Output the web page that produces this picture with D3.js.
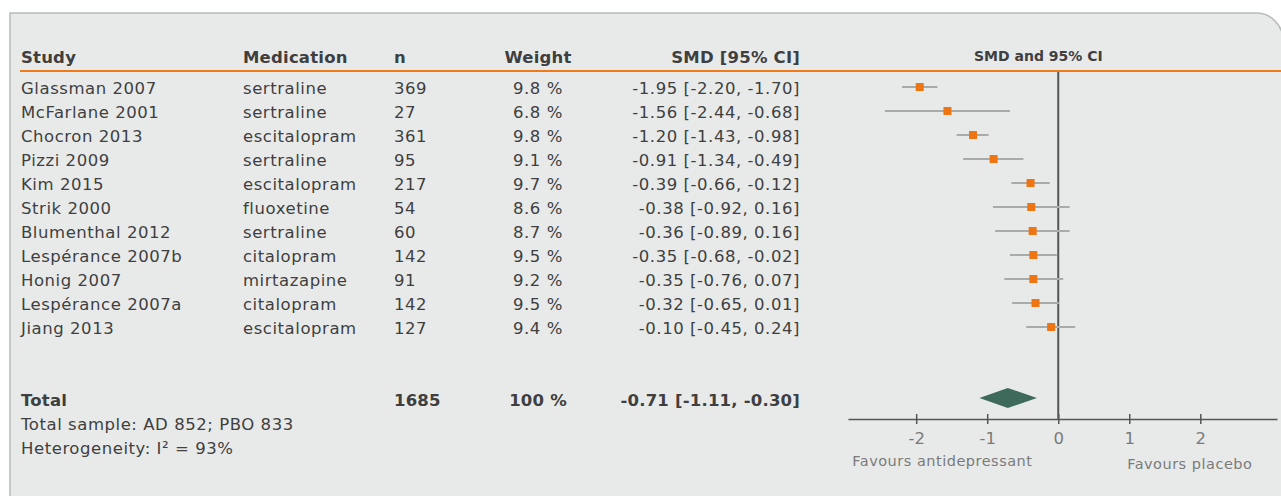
<!DOCTYPE html>
<html>
<head>
<meta charset="utf-8">
<script src="https://cdn.jsdelivr.net/npm/d3@7"></script>
<style>
  html, body { margin: 0; padding: 0; background: #ffffff; }
  svg { display: block; }
  text { font-family: "DejaVu Sans", sans-serif; }
</style>
</head>
<body>
<svg id="chart" width="1281" height="496"></svg>
<script>
// Study-level data
const studies = ["Glassman 2007", "McFarlane 2001", "Chocron 2013", "Pizzi 2009", "Kim 2015", "Strik 2000",
  "Blumenthal 2012", "Lespérance 2007b", "Honig 2007", "Lespérance 2007a", "Jiang 2013"];
const medications = ["sertraline", "sertraline", "escitalopram", "sertraline", "escitalopram", "fluoxetine",
  "sertraline", "citalopram", "mirtazapine", "citalopram", "escitalopram"];
const sampleSizes = [369, 27, 361, 95, 217, 54, 60, 142, 91, 142, 127];
const weights = [9.8, 6.8, 9.8, 9.1, 9.7, 8.6, 8.7, 9.5, 9.2, 9.5, 9.4];
const smd = [-1.95, -1.56, -1.20, -0.91, -0.39, -0.38, -0.36, -0.35, -0.35, -0.32, -0.10];
const ciLow = [-2.20, -2.44, -1.43, -1.34, -0.66, -0.92, -0.89, -0.68, -0.76, -0.65, -0.45];
const ciHigh = [-1.70, -0.68, -0.98, -0.49, -0.12, 0.16, 0.16, -0.02, 0.07, 0.01, 0.24];

// Pooled estimate
const totalN = 1685;
const totalWeight = 100;
const totalSMD = -0.71;
const totalLow = -1.11;
const totalHigh = -0.30;

const headers = ["Study", "Medication", "n", "Weight", "SMD [95% CI]"];
const axisTicks = [-2, -1, 0, 1, 2];
const footnotes = ["Total sample: AD 852; PBO 833", "Heterogeneity: I² = 93%"];
const favourLabels = ["Favours antidepressant", "Favours placebo"];

// Plain hyphen-minus for negative numbers
const hyphen = s => s.replace(/\u2212/g, "-");
const fmt2 = v => hyphen(d3.format(".2f")(v));
const fmtW = w => d3.format(".1f")(w) + " %";
const fmtCI = (m, lo, hi) => `${fmt2(m)} [${fmt2(lo)}, ${fmt2(hi)}]`;

const svg = d3.select("#chart");
const ink = "#3f3f3f";
const orange = "#f07a1a";

// Panel with a rounded top-right corner
const px0 = 10, py0 = 13, px1 = 1283, py1 = 520, r = 27;
svg.append("path")
  .attr("d", `M${px0},${py1} L${px0},${py0} L${px1 - r},${py0} A${r},${r} 0 0 1 ${px1},${py0 + r} L${px1},${py1} Z`)
  .attr("fill", "#e8eaea")
  .attr("stroke", "#b6bbba")
  .attr("stroke-width", 1.5);

// Column anchors
const col = { study: 21, med: 243, n: 394, weight: 538, smd: 800 };
const bodyFont = 16.5, spacing = 0.55;

// Row positions
const y = d3.scalePoint().domain(studies).range([94, 334]);

// Forest plot scale
const x = d3.scaleLinear().domain([-2.96, 3.08]).range([848, 1277]);

// Header
const headerBase = 63;
const headerG = svg.append("g").attr("font-weight", "bold").attr("fill", ink)
  .attr("font-size", bodyFont).attr("letter-spacing", 0.2);
headerG.append("text").attr("x", col.study).attr("y", headerBase).text(headers[0]);
headerG.append("text").attr("x", col.med).attr("y", headerBase).text(headers[1]);
headerG.append("text").attr("x", col.n).attr("y", headerBase).text(headers[2]);
headerG.append("text").attr("x", col.weight).attr("y", headerBase).attr("text-anchor", "middle").text(headers[3]);
headerG.append("text").attr("x", col.smd).attr("y", headerBase).attr("text-anchor", "end").text(headers[4]);
svg.append("text")
  .attr("x", x(-0.28)).attr("y", 61)
  .attr("text-anchor", "middle")
  .attr("font-weight", "bold").attr("font-size", 14).attr("fill", ink)
  .text("SMD and 95% CI");

svg.append("line")
  .attr("x1", 20).attr("x2", 1281).attr("y1", 71).attr("y2", 71)
  .attr("stroke", orange).attr("stroke-width", 2);

// Table rows
const rows = svg.append("g").attr("fill", ink).attr("font-size", bodyFont).attr("letter-spacing", spacing)
  .selectAll("g").data(studies).join("g")
  .attr("transform", d => `translate(0,${y(d)})`);
rows.append("text").attr("x", col.study).text(d => d);
rows.append("text").attr("x", col.med).text((d, i) => medications[i]);
rows.append("text").attr("x", col.n).text((d, i) => sampleSizes[i]);
rows.append("text").attr("x", col.weight).attr("text-anchor", "middle").text((d, i) => fmtW(weights[i]));
rows.append("text").attr("x", col.smd).attr("text-anchor", "end")
  .text((d, i) => fmtCI(smd[i], ciLow[i], ciHigh[i]));

// Total row
const totalBase = 406;
const totalG = svg.append("g").attr("fill", ink).attr("font-size", bodyFont)
  .attr("font-weight", "bold").attr("letter-spacing", 0.2);
totalG.append("text").attr("x", col.study).attr("y", totalBase).text("Total");
totalG.append("text").attr("x", col.n).attr("y", totalBase).text(totalN);
totalG.append("text").attr("x", col.weight).attr("y", totalBase).attr("text-anchor", "middle").text(totalWeight + " %");
totalG.append("text").attr("x", col.smd).attr("y", totalBase).attr("text-anchor", "end")
  .text(fmtCI(totalSMD, totalLow, totalHigh));

svg.append("g").attr("fill", ink).attr("font-size", bodyFont).attr("letter-spacing", spacing)
  .selectAll("text").data(footnotes).join("text")
  .attr("x", col.study).attr("y", (d, i) => 430 + i * 24)
  .text(d => d);

// Forest plot
const axisY = 419;
const markerOffset = -7;

// Line of no effect
svg.append("line")
  .attr("x1", x(0)).attr("x2", x(0)).attr("y1", 72).attr("y2", axisY)
  .attr("stroke", "#555").attr("stroke-width", 2);

const plot = svg.append("g");
plot.selectAll("line.ci").data(studies).join("line")
  .attr("class", "ci")
  .attr("x1", (d, i) => x(ciLow[i])).attr("x2", (d, i) => x(ciHigh[i]))
  .attr("y1", d => y(d) + markerOffset).attr("y2", d => y(d) + markerOffset)
  .attr("stroke", "#a9abaa").attr("stroke-width", 2);

const sq = 8;
plot.selectAll("rect.pt").data(studies).join("rect")
  .attr("class", "pt")
  .attr("x", (d, i) => x(smd[i]) - sq / 2)
  .attr("y", d => y(d) + markerOffset - sq / 2)
  .attr("width", sq).attr("height", sq)
  .attr("fill", "#ef7412");

// Pooled diamond
const dy = 398, dh = 10;
svg.append("path")
  .attr("d", `M${x(totalLow)},${dy} L${x(totalSMD)},${dy - dh} L${x(totalHigh)},${dy} L${x(totalSMD)},${dy + dh} Z`)
  .attr("fill", "#3d6a5b");

// Axis
const axis = d3.axisBottom(x).tickValues(axisTicks).tickSizeInner(10).tickSizeOuter(0).tickPadding(6)
  .tickFormat(d => hyphen(d3.format("d")(d)));
const axisG = svg.append("g").attr("transform", `translate(0,${axisY})`).call(axis);
axisG.select(".domain").attr("stroke", "#555").attr("stroke-width", 1.5);
axisG.selectAll(".tick line").attr("y1", -5).attr("y2", 5).attr("stroke", "#555").attr("stroke-width", 1.5);
axisG.selectAll(".tick text")
  .attr("y", 13).attr("dy", "0.71em")
  .attr("font-family", "DejaVu Sans, sans-serif")
  .attr("font-size", 16.5).attr("fill", "#7a7a7a");

svg.append("g").attr("fill", "#7a7a7a").attr("font-size", 14.5).attr("letter-spacing", 0.5)
  .selectAll("text").data(favourLabels).join("text")
  .attr("x", (d, i) => i === 0 ? x(-2.9) : x(0.97))
  .attr("y", (d, i) => i === 0 ? 466 : 469)
  .text(d => d);
</script>
</body>
</html>
